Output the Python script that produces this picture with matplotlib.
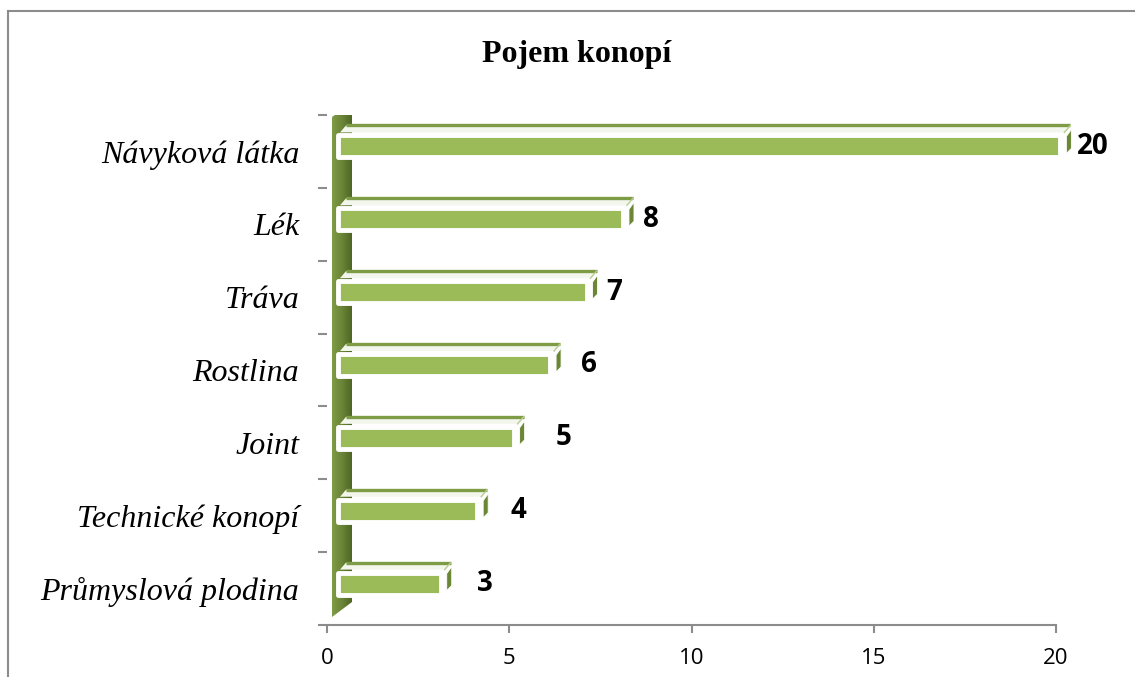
import matplotlib.pyplot as plt
from matplotlib.patches import Rectangle, Polygon
from matplotlib.lines import Line2D
from matplotlib.colors import LinearSegmentedColormap
import numpy as np

# data
categories = ['Návyková látka', 'Lék', 'Tráva', 'Rostlina', 'Joint',
              'Technické konopí', 'Průmyslová plodina']
values = [20, 8, 7, 6, 5, 4, 3]
title = 'Pojem konopí'
xticks = [0, 5, 10, 15, 20]

# layout / style
label_gap_px = [17, 20, 20, 31, 42, 33, 36]
front_col = '#9BBB59'
side_col = '#6B8735'
grey = '#8C8C8C'

W, H = 1135, 677
fig = plt.figure(figsize=(W / 100, H / 100), dpi=100)
ax = fig.add_axes([327 / W, 52 / H, 729 / W, 510 / H])

# px -> data units
sx = 20 / 729
sy = len(categories) / 510

# back wall (3d projection side)
y_top, y_bot = -0.5, len(categories) - 0.5
wall = [(5 * sx, y_top + 2 * sy), (25 * sx, y_top - 12 * sy),
        (25 * sx, y_bot - 23 * sy), (5 * sx, y_bot - 8 * sy)]
wall_poly = Polygon(wall, closed=True, fc='none', ec='none', clip_on=False)
ax.add_patch(wall_poly)
cmap = LinearSegmentedColormap.from_list('wall', ['#7F9C48', '#6A8536', '#4F6625'])
im = ax.imshow(np.linspace(0, 1, 50).reshape(1, -1), cmap=cmap, aspect='auto',
               extent=(5 * sx, 25 * sx, y_bot, y_top - 12 * sy), zorder=1)
im.set_clip_path(wall_poly)
ax.set_xlim(0, 20)
ax.set_ylim(y_bot, y_top)

bar_start = 11 * sx
for i, v in enumerate(values):
    yc = i - 5 * sy
    h = 22 * sy
    x0 = bar_start
    x1 = v + 0.12
    yt = yc - h / 2
    yb = yc + h / 2
    # top face
    top = [(x0 + 2 * sx, yt - 3 * sy), (x1 + 4 * sx, yt - 3 * sy),
           (x1 + 10 * sx, yt - 10 * sy), (x0 + 8 * sx, yt - 10 * sy)]
    ax.add_patch(Polygon(top, closed=True, fc='#F3F6EC', ec='none',
                         zorder=2, clip_on=False))
    ax.plot([x0 + 8 * sx, x1 + 10 * sx], [yt - 10 * sy, yt - 10 * sy],
            color='#7E9B46', lw=2.4, solid_capstyle='butt', zorder=3,
            clip_on=False)
    ax.plot([x1 + 4 * sx, x1 + 10 * sx], [yt - 3 * sy, yt - 10 * sy],
            color='#B9CC92', lw=1, zorder=3, clip_on=False)
    # front face
    ax.add_patch(Rectangle((x0, yt), x1 - x0, h, fc=front_col, ec='white',
                           lw=3.5, joinstyle='round', zorder=4, clip_on=False))
    # side face
    side = [(x1 + 6 * sx, yt + 1 * sy), (x1 + 11 * sx, yt - 6 * sy),
            (x1 + 11 * sx, yb - 9 * sy), (x1 + 6 * sx, yb - 4 * sy)]
    ax.add_patch(Polygon(side, closed=True, fc=side_col, ec='white', lw=0.6,
                         zorder=4, clip_on=False))
    ax.text(x1 + label_gap_px[i] * sx, yc, str(v), ha='left', va='center',
            fontsize=20, fontweight='bold', family='Open Sans', zorder=5)

# axes styling
for s in ['left', 'top', 'right']:
    ax.spines[s].set_visible(False)
ax.spines['bottom'].set_color(grey)
ax.spines['bottom'].set_linewidth(1.5)

ax.set_xticks(xticks)
ax.set_xticklabels([str(t) for t in xticks], family='Open Sans', fontsize=16)
ax.tick_params(axis='x', length=5.8, width=1.5, color=grey, pad=11)

ax.set_yticks(range(len(categories)))
ax.set_yticklabels(categories, family='Liberation Serif', style='italic',
                   fontsize=23)
ax.set_yticks(np.arange(-0.5, len(categories), 1), minor=True)
ax.tick_params(axis='y', which='major', length=0, pad=20)
ax.tick_params(axis='y', which='minor', length=6.5, width=1.5, color=grey)

fig.text(577 / W, 1 - 62 / H, title, ha='center', va='baseline',
         family='Liberation Serif', fontweight='bold', fontsize=23)

# chart frame
fig.add_artist(Line2D([8 / W, 1], [1 - 11 / H, 1 - 11 / H], color=grey, lw=1.5))
fig.add_artist(Line2D([8 / W, 8 / W], [0, 1 - 11 / H], color=grey, lw=1.5))

fig.savefig('out.png', dpi=100)
